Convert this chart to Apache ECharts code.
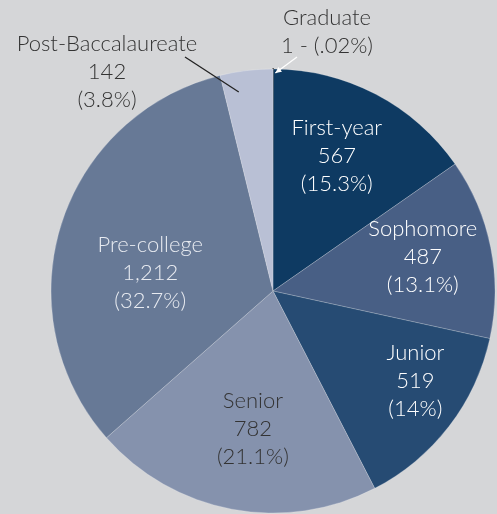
<!DOCTYPE html>
<html>
<head>
<meta charset="utf-8">
<script src="https://cdn.jsdelivr.net/npm/echarts@6/dist/echarts.min.js"></script>
<style>
  html, body { margin: 0; padding: 0; background: #d5d6d8; }
  #chart { width: 497px; height: 514px; }
</style>
</head>
<body>
<div id="chart"></div>
<script>
// enrollment by class level, clockwise from 12 o'clock
const categories = ['Graduate', 'First-year', 'Sophomore', 'Junior', 'Senior', 'Pre-college', 'Post-Baccalaureate']
const counts = [1, 567, 487, 519, 782, 1212, 142]
const countLabels = ['1', '567', '487', '519', '782', '1,212', '142']
const percentLabels = ['.02%', '15.3%', '13.1%', '14%', '21.1%', '32.7%', '3.8%']

const sliceColors = ['#111111', '#0e3a62', '#485f85', '#264b73', '#8592ad', '#677996', '#b9c0d5']
const textColors = ['#333333', '#ffffff', '#ffffff', '#ffffff', '#333333', '#e8ebf1', '#333333']
// nudges so the inside labels sit where the original has them
const labelShift = [[0, 0], [11, -34], [38, -12], [52, 20], [1, 26], [-14, 16], [0, 0]]

const CX = 273, CY = 291, R = 222
const total = counts.reduce((a, b) => a + b, 0)

// point on a slice's bisector at a given radius (skew in radians)
function slicePoint(i, r, skew) {
  let before = 0
  for (let k = 0; k < i; k++) before += counts[k]
  const ang = ((before + counts[i] / 2) / total) * Math.PI * 2 + (skew || 0)
  return [CX + r * Math.sin(ang), CY - r * Math.cos(ang)]
}

const gradIdx = categories.indexOf('Graduate')
const postIdx = categories.indexOf('Post-Baccalaureate')

// callout leader lines for the two outside labels
const postStart = slicePoint(postIdx, 202, -0.05)
const postEnd = [185, 57]
const gradTip = slicePoint(gradIdx, R - 4, 0.01)
const gradTail = [297, 57]

function arrowHead(tip, tail, len, half) {
  const dx = tip[0] - tail[0], dy = tip[1] - tail[1]
  const d = Math.hypot(dx, dy)
  const ux = dx / d, uy = dy / d
  const bx = tip[0] - ux * len, by = tip[1] - uy * len
  return [tip, [bx - uy * half, by + ux * half], [bx + uy * half, by - ux * half]]
}

const chart = echarts.init(document.getElementById('chart'))

const data = categories.map((name, i) => {
  const outside = i === gradIdx || i === postIdx
  return {
    name,
    value: counts[i],
    itemStyle: {
      color: sliceColors[i],
      borderColor: i === gradIdx ? '#111111' : 'rgba(255,255,255,0.35)',
      borderWidth: i === gradIdx ? 1.5 : 0.6,
    },
    label: {
      position: outside ? 'outside' : 'inside',
      color: textColors[i],
    },
  }
})

chart.setOption({
  backgroundColor: '#d5d6d8',
  animation: false,
  graphic: [
    {
      type: 'polyline',
      z: 100,
      shape: { points: [postStart, postEnd] },
      style: { stroke: '#222222', lineWidth: 1.3, fill: null },
    },
    {
      type: 'polyline',
      z: 100,
      shape: { points: [gradTail, gradTip] },
      style: { stroke: '#ffffff', lineWidth: 1.3, fill: null },
    },
    {
      type: 'polygon',
      z: 100,
      shape: { points: arrowHead(gradTip, gradTail, 6, 3) },
      style: { fill: '#ffffff' },
    },
  ],
  series: [
    {
      type: 'pie',
      center: [CX, CY],
      radius: ['0%', R],
      startAngle: 90,
      clockwise: true,
      avoidLabelOverlap: false,
      labelLine: { show: false },
      label: {
        fontFamily: 'Lato',
        fontWeight: 300,
        fontSize: 22,
        lineHeight: 28,
        align: 'center',
        formatter(p) {
          const i = p.dataIndex
          if (i === gradIdx) {
            return `${categories[i]}\n${countLabels[i]} - (${percentLabels[i]})`
          }
          return `${categories[i]}\n${countLabels[i]}\n(${percentLabels[i]})`
        },
      },
      labelLayout(params) {
        const i = params.dataIndex
        if (i === postIdx) {
          return { x: 107, y: 72, align: 'center', verticalAlign: 'middle' }
        }
        if (i === gradIdx) {
          return { x: 327, y: 32, align: 'center', verticalAlign: 'middle' }
        }
        const s = labelShift[i]
        return { dx: s[0], dy: s[1] }
      },
      data,
    },
  ],
})
</script>
</body>
</html>
